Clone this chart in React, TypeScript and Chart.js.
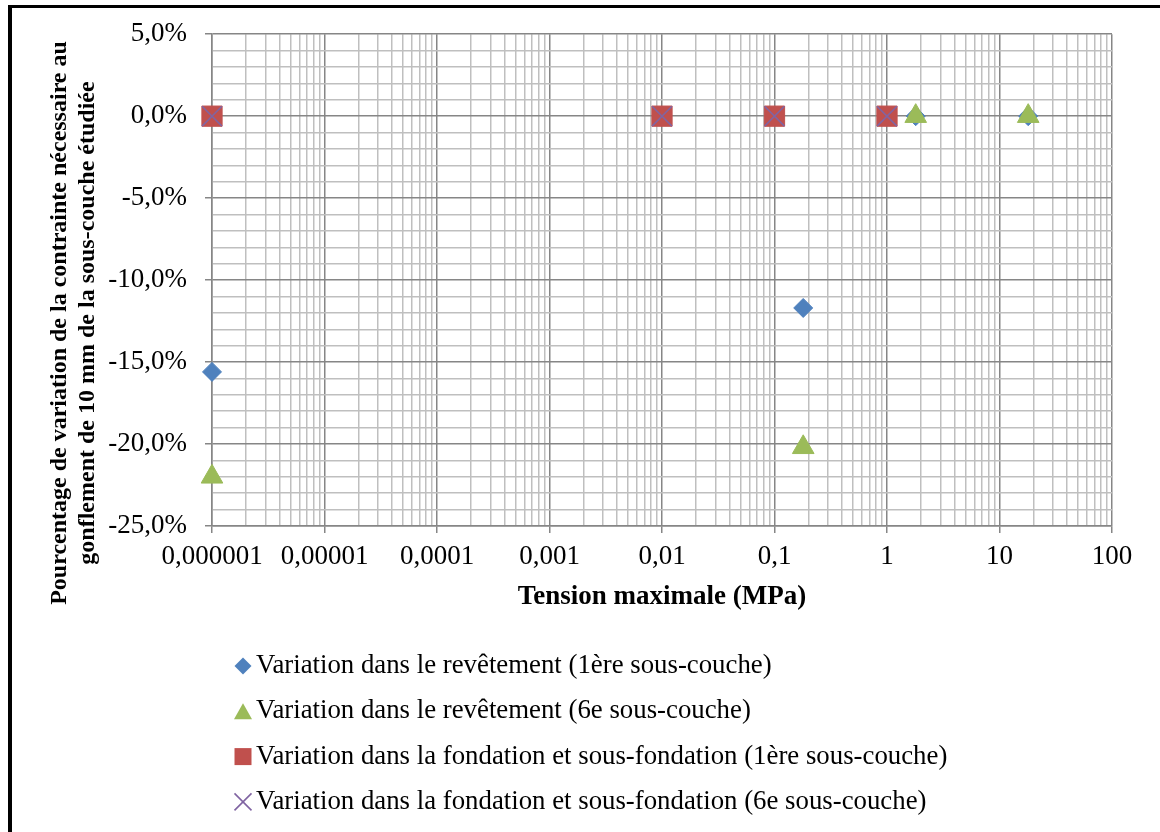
import React, { useEffect, useRef } from "react";
import { Chart, registerables } from "chart.js";

Chart.register(...registerables);

// ---------- data ----------
const seriesNames = [
  "Variation dans le revêtement (1ère sous-couche)",
  "Variation dans le revêtement (6e sous-couche)",
  "Variation dans la fondation et sous-fondation (1ère sous-couche)",
  "Variation dans la fondation et sous-fondation (6e sous-couche)",
];
const revet1X = [0.000001, 0.18, 1.8, 18];
const revet1Y = [-15.6, -11.7, 0, 0];
const revet6X = [0.000001, 0.18, 1.8, 18];
const revet6Y = [-22.0, -20.2, 0, 0];
const fond1X = [0.000001, 0.01, 0.1, 1];
const fond1Y = [0, 0, 0, 0];
const fond6X = [0.000001, 0.01, 0.1, 1];
const fond6Y = [0, 0, 0, 0];

const xTickValues = [0.000001, 0.00001, 0.0001, 0.001, 0.01, 0.1, 1, 10, 100];
const xTickLabels = ["0,000001", "0,00001", "0,0001", "0,001", "0,01", "0,1", "1", "10", "100"];
const xMinorMultipliers = [2, 3, 4, 5, 6, 7, 8, 9];
const yTickValues = [-25, -20, -15, -10, -5, 0, 5];
const yTickLabels = ["-25,0%", "-20,0%", "-15,0%", "-10,0%", "-5,0%", "0,0%", "5,0%"];
const yMinorStep = 1;

const xTitle = "Tension maximale (MPa)";
const yTitleLines = [
  "Pourcentage de variation de la contrainte nécessaire au",
  "gonflement de 10 mm de la sous-couche étudiée",
];

const colors = ["#4F81BD", "#9BBB59", "#C0504D", "#8064A2"];

const FONT = "'Liberation Serif', 'Times New Roman', serif";

const isXMajor = (v: number) => {
  const l = Math.log10(v);
  return Math.abs(l - Math.round(l)) < 1e-6;
};
const isYMajor = (v: number) => yTickValues.some((t) => Math.abs(t - v) < 1e-6);

const MAJOR_GRID = "#868686";
const MINOR_GRID = "#BFBFBF";

// ---------- plugins ----------
const yTitlePlugin = {
  id: "yTitleTwoLines",
  afterDraw(chart: any) {
    const ctx = chart.ctx;
    ctx.save();
    ctx.fillStyle = "#000";
    ctx.font = `bold 24px ${FONT}`;
    ctx.textAlign = "center";
    ctx.textBaseline = "middle";
    const xs = [59.5, 87.5];
    const cy = 323;
    yTitleLines.forEach((line, i) => {
      ctx.save();
      ctx.translate(xs[i], cy);
      ctx.rotate(-Math.PI / 2);
      ctx.fillText(line, 0, 0);
      ctx.restore();
    });
    ctx.restore();
  },
};

const legendPlugin = {
  id: "verticalLegend",
  afterDraw(chart: any) {
    const ctx = chart.ctx;
    const mx = 243;
    const tx = 256;
    const y0 = 666;
    const dy = 45.3;
    ctx.save();
    chart.data.datasets.forEach((ds: any, i: number) => {
      const y = y0 + i * dy;
      const c = ds.backgroundColor;
      ctx.fillStyle = c;
      ctx.strokeStyle = c;
      ctx.beginPath();
      if (i === 0) {
        const r = 8.5;
        ctx.moveTo(mx, y - r);
        ctx.lineTo(mx + r, y);
        ctx.lineTo(mx, y + r);
        ctx.lineTo(mx - r, y);
        ctx.closePath();
        ctx.fill();
      } else if (i === 1) {
        const w = 18, h = 16;
        ctx.moveTo(mx, y - h / 2);
        ctx.lineTo(mx + w / 2, y + h / 2);
        ctx.lineTo(mx - w / 2, y + h / 2);
        ctx.closePath();
        ctx.fill();
      } else if (i === 2) {
        const s = 17;
        ctx.rect(mx - s / 2, y - s / 2, s, s);
        ctx.fill();
      } else {
        const s = 8.5;
        ctx.lineWidth = 1.6;
        ctx.moveTo(mx - s, y - s);
        ctx.lineTo(mx + s, y + s);
        ctx.moveTo(mx + s, y - s);
        ctx.lineTo(mx - s, y + s);
        ctx.stroke();
      }
      ctx.fillStyle = "#000";
      ctx.font = `26.8px ${FONT}`;
      ctx.textAlign = "left";
      ctx.textBaseline = "middle";
      ctx.fillText(ds.label, tx, y);
    });
    ctx.restore();
  },
};

const toPoints = (xs: number[], ys: number[]) => xs.map((x, i) => ({ x, y: ys[i] }));

export default function App() {
  const ref = useRef<HTMLCanvasElement | null>(null);

  useEffect(() => {
    if (!ref.current) return;
    const datasets = [
      {
        label: seriesNames[0],
        data: toPoints(revet1X, revet1Y),
        pointStyle: "rectRot",
        pointRadius: 9.5,
        backgroundColor: colors[0],
        borderColor: colors[0],
        borderWidth: 1,
        order: 4,
      },
      {
        label: seriesNames[1],
        data: toPoints(revet6X, revet6Y),
        pointStyle: "triangle",
        pointRadius: 12.5,
        backgroundColor: colors[1],
        borderColor: colors[1],
        borderWidth: 1,
        order: 3,
      },
      {
        label: seriesNames[2],
        data: toPoints(fond1X, fond1Y),
        pointStyle: "rect",
        pointRadius: 14.3,
        backgroundColor: colors[2],
        borderColor: colors[2],
        borderWidth: 1,
        order: 2,
      },
      {
        label: seriesNames[3],
        data: toPoints(fond6X, fond6Y),
        pointStyle: "crossRot",
        pointRadius: 14,
        backgroundColor: colors[3],
        borderColor: colors[3],
        borderWidth: 1.6,
        order: 1,
      },
    ].map((d) => ({ ...d, showLine: false, clip: false as any, pointHoverRadius: d.pointRadius }));

    const chart = new Chart(ref.current, {
      type: "scatter",
      data: { datasets: datasets as any },
      options: {
        responsive: false,
        animation: false,
        devicePixelRatio: 1,
        layout: { padding: { left: 0, right: 48, top: 34, bottom: 832 - 526 - 90 } },
        plugins: {
          legend: { display: false },
          tooltip: { enabled: false },
          title: { display: false },
        },
        scales: {
          x: {
            type: "logarithmic",
            min: xTickValues[0],
            max: xTickValues[xTickValues.length - 1],
            afterBuildTicks: (scale: any) => {
              const ticks: any[] = [];
              xTickValues.forEach((v, i) => {
                ticks.push({ value: v, major: true });
                if (i < xTickValues.length - 1) {
                  xMinorMultipliers.forEach((m) => ticks.push({ value: v * m, major: false }));
                }
              });
              scale.ticks = ticks;
            },
            afterFit: (scale: any) => {
              scale.height = 90;
            },
            ticks: {
              autoSkip: false,
              maxRotation: 0,
              minRotation: 0,
              padding: 8,
              color: "#000",
              font: { family: FONT, size: 27 },
              callback: (value: any) => {
                const v = Number(value);
                const idx = xTickValues.findIndex((t) => Math.abs(Math.log10(t) - Math.log10(v)) < 1e-6);
                return idx >= 0 ? xTickLabels[idx] : "";
              },
            },
            grid: {
              color: (ctx: any) => (ctx.tick && isXMajor(ctx.tick.value) ? MAJOR_GRID : MINOR_GRID),
              tickColor: (ctx: any) => (ctx.tick && isXMajor(ctx.tick.value) ? MAJOR_GRID : "rgba(0,0,0,0)"),
              lineWidth: 1.5,
              tickLength: 7,
            },
            border: { color: MAJOR_GRID, width: 1.5 },
            title: {
              display: true,
              text: xTitle,
              color: "#000",
              font: { family: FONT, size: 27, weight: "bold", lineHeight: 1.2 },
              padding: { top: 0, bottom: 3 },
            },
          },
          y: {
            type: "linear",
            min: yTickValues[0],
            max: yTickValues[yTickValues.length - 1],
            afterBuildTicks: (scale: any) => {
              const ticks: any[] = [];
              const lo = yTickValues[0];
              const hi = yTickValues[yTickValues.length - 1];
              for (let v = lo; v <= hi + 1e-9; v += yMinorStep) {
                ticks.push({ value: v, major: isYMajor(v) });
              }
              scale.ticks = ticks;
            },
            afterFit: (scale: any) => {
              scale.width = 212;
            },
            ticks: {
              autoSkip: false,
              padding: 18,
              color: "#000",
              font: { family: FONT, size: 27 },
              callback: (value: any) => {
                const v = Number(value);
                const idx = yTickValues.findIndex((t) => Math.abs(t - v) < 1e-6);
                return idx >= 0 ? yTickLabels[idx] : "";
              },
            },
            grid: {
              color: (ctx: any) => (ctx.tick && isYMajor(ctx.tick.value) ? MAJOR_GRID : MINOR_GRID),
              tickColor: (ctx: any) => (ctx.tick && isYMajor(ctx.tick.value) ? MAJOR_GRID : "rgba(0,0,0,0)"),
              lineWidth: 1.5,
              tickLength: 7,
            },
            border: { color: MAJOR_GRID, width: 1.5 },
            title: { display: false },
          },
        },
      } as any,
      plugins: [yTitlePlugin, legendPlugin],
    });
    return () => chart.destroy();
  }, []);

  return (
    <div style={{ position: "fixed", left: 0, top: 0, width: 1160, height: 832, background: "#fff", overflow: "hidden" }}>
      <canvas ref={ref} width={1160} height={832} style={{ position: "absolute", left: 0, top: 0, width: 1160, height: 832 }} />
      <div
        style={{
          position: "absolute",
          left: 8,
          top: 5,
          right: 0,
          bottom: 0,
          borderLeft: "4px solid #000",
          borderTop: "3px solid #000",
          pointerEvents: "none",
        }}
      />
    </div>
  );
}
